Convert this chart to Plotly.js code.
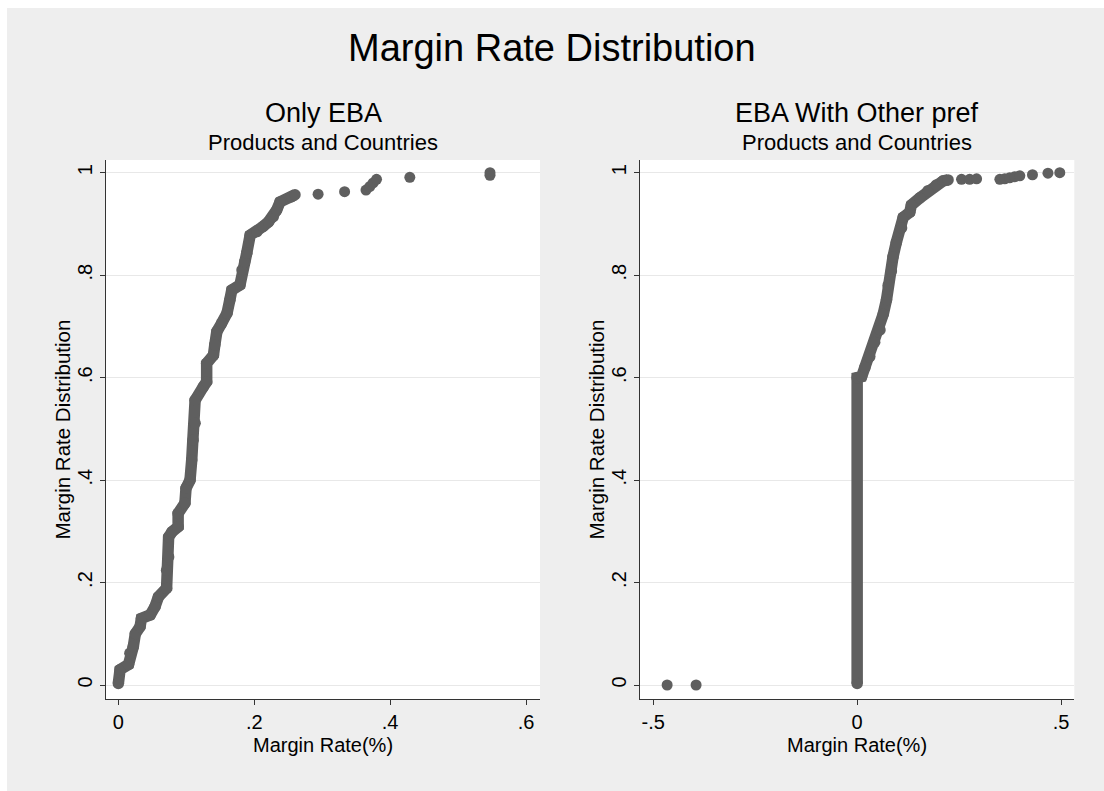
<!DOCTYPE html>
<html>
<head>
<meta charset="utf-8">
<script src="https://cdn.plot.ly/plotly-3.0.1.min.js"></script>
<style>html,body{margin:0;padding:0;background:#fff;}</style>
</head>
<body>
<div id="chart" style="width:1104px;height:791px;"></div>
<script>
// ---- Data ----
// Left panel: Only EBA, cumulative distribution of margin rate
const leftCurveX = [0, 0.0025, 0.015, 0.017, 0.022, 0.025, 0.032, 0.034, 0.047, 0.054, 0.059, 0.071, 0.071, 0.074, 0.074, 0.079, 0.088, 0.088, 0.098, 0.0996, 0.1055, 0.108, 0.110, 0.113, 0.113, 0.125, 0.130, 0.130, 0.140, 0.142, 0.145, 0.152, 0.160, 0.164, 0.167, 0.179, 0.182, 0.186, 0.189, 0.194, 0.204, 0.213, 0.221, 0.228, 0.233, 0.238, 0.255, 0.260];
const leftCurveY = [0.003, 0.03, 0.04, 0.062, 0.075, 0.10, 0.114, 0.130, 0.137, 0.153, 0.172, 0.189, 0.224, 0.250, 0.289, 0.299, 0.309, 0.335, 0.355, 0.384, 0.400, 0.439, 0.478, 0.511, 0.556, 0.582, 0.592, 0.628, 0.644, 0.664, 0.690, 0.706, 0.726, 0.751, 0.771, 0.781, 0.810, 0.826, 0.843, 0.878, 0.885, 0.895, 0.904, 0.914, 0.927, 0.943, 0.953, 0.957];
const leftTailX = [0.294, 0.333, 0.3645, 0.370, 0.375, 0.380, 0.429, 0.547, 0.547];
const leftTailY = [0.958, 0.963, 0.966, 0.973, 0.980, 0.987, 0.991, 0.995, 1.0];

// Right panel: EBA With Other pref
const rightCurveX = [0, 0, 0.011, 0.019, 0.031, 0.043, 0.056, 0.064, 0.072, 0.076, 0.084, 0.088, 0.096, 0.109, 0.113, 0.129, 0.133, 0.154, 0.174, 0.194, 0.211, 0.223];
const rightCurveY = [0.003, 0.600, 0.602, 0.620, 0.641, 0.669, 0.693, 0.724, 0.752, 0.780, 0.808, 0.836, 0.864, 0.892, 0.913, 0.923, 0.937, 0.951, 0.965, 0.976, 0.984, 0.986];
const rightTailX = [-0.466, -0.395, 0.256, 0.276, 0.293, 0.350, 0.362, 0.374, 0.386, 0.399, 0.430, 0.468, 0.497];
const rightTailY = [0, 0, 0.987, 0.987, 0.988, 0.987, 0.988, 0.990, 0.992, 0.994, 0.996, 0.999, 1.0];

// Tick labels
const yTickVals = [0, 0.2, 0.4, 0.6, 0.8, 1];
const yTickText = ['0', '.2', '.4', '.6', '.8', '1'];
const leftXTickVals = [0, 0.2, 0.4, 0.6];
const leftXTickText = ['0', '.2', '.4', '.6'];
const rightXTickVals = [-0.5, 0, 0.5];
const rightXTickText = ['-.5', '0', '.5'];

// Texts
const mainTitle = 'Margin Rate Distribution';
const panelTitles = ['Only EBA', 'EBA With Other pref'];
const panelSubtitle = 'Products and Countries';
const xTitle = 'Margin Rate(%)';
const yTitle = 'Margin Rate Distribution';

// ---- Styling ----
const W = 1104, H = 791;
const markColor = '#5f5f5f';
const FONT = 'Liberation Sans, Arial, Helvetica, sans-serif';
const px = v => v / W;
const py = v => 1 - v / H;
const LW = 11.5, MS = 11.5;

const traces = [
  {x: leftCurveX, y: leftCurveY, xaxis: 'x', yaxis: 'y', mode: 'lines+markers', type: 'scatter',
   line: {color: markColor, width: LW}, marker: {color: markColor, size: MS}},
  {x: leftTailX, y: leftTailY, xaxis: 'x', yaxis: 'y', mode: 'markers', type: 'scatter',
   marker: {color: markColor, size: 11}},
  {x: rightCurveX, y: rightCurveY, xaxis: 'x2', yaxis: 'y2', mode: 'lines+markers', type: 'scatter',
   line: {color: markColor, width: LW}, marker: {color: markColor, size: MS}},
  {x: rightTailX, y: rightTailY, xaxis: 'x2', yaxis: 'y2', mode: 'markers', type: 'scatter',
   marker: {color: markColor, size: 11}}
];

const yDomain = [py(699), py(160)];
const yRange = [-0.0273, 1.0248];

function xAxis(domain, range, vals, text) {
  return {domain: domain, range: range, tickvals: vals, ticktext: text,
    showgrid: false, zeroline: false, showline: true, linecolor: '#333', linewidth: 1,
    ticks: 'outside', ticklen: 5, tickcolor: '#333', tickwidth: 1,
    tickfont: {family: FONT, size: 20, color: '#000'}, fixedrange: true};
}
function yAxis(domain, anchor) {
  return {domain: domain, range: yRange, tickvals: yTickVals, ticktext: yTickText, anchor: anchor,
    showgrid: true, gridcolor: '#e8e8e8', gridwidth: 1, zeroline: false,
    showline: true, linecolor: '#333', linewidth: 1,
    ticks: 'outside', ticklen: 5, tickcolor: '#333', tickwidth: 1, tickangle: -90,
    tickfont: {family: FONT, size: 20, color: '#000'}, fixedrange: true};
}

const ann = (text, x, y, size, angle) => ({text: text, x: x, y: y, xref: 'paper', yref: 'paper',
  xanchor: 'center', yanchor: 'middle', showarrow: false, textangle: angle || 0,
  font: {family: FONT, size: size, color: '#000'}});

const layout = {
  width: W, height: H,
  margin: {l: 0, r: 0, t: 0, b: 0},
  paper_bgcolor: '#eeeeee', plot_bgcolor: '#ffffff',
  showlegend: false, hovermode: false,
  xaxis: xAxis([px(105.7), px(540)], [-0.0186, 0.6206], leftXTickVals, leftXTickText),
  yaxis: yAxis(yDomain, 'x'),
  xaxis2: Object.assign(xAxis([px(640), px(1074.3)], [-0.5326, 0.5326], rightXTickVals, rightXTickText), {anchor: 'y2'}),
  yaxis2: yAxis(yDomain, 'x2'),
  shapes: [
    {type: 'rect', xref: 'paper', yref: 'paper', x0: 0, x1: 1, y0: py(8), y1: 1, fillcolor: '#ffffff', line: {width: 0}, layer: 'below'},
    {type: 'rect', xref: 'paper', yref: 'paper', x0: 0, x1: px(7), y0: 0, y1: 1, fillcolor: '#ffffff', line: {width: 0}, layer: 'below'}
  ],
  annotations: [
    ann(mainTitle, 0.5, py(48), 38),
    ann(panelTitles[0], px(323), py(113), 27),
    ann(panelSubtitle, px(323), py(143), 22),
    ann(panelTitles[1], px(857), py(113), 27),
    ann(panelSubtitle, px(857), py(143), 22),
    ann(xTitle, px(323), py(745), 20),
    ann(xTitle, px(857), py(745), 20),
    ann(yTitle, px(62), py(429.5), 20.5, -90),
    ann(yTitle, px(596), py(429.5), 20.5, -90)
  ]
};

Plotly.newPlot('chart', traces, layout, {staticPlot: true, displayModeBar: false});
</script>
</body>
</html>
